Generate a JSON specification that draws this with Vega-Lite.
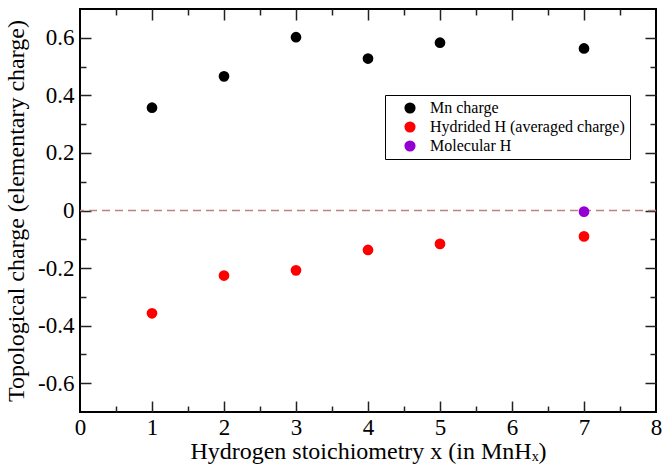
{
  "$schema": "https://vega.github.io/schema/vega-lite/v6.json",
  "width": 576,
  "height": 403,
  "autosize": {"type": "none"},
  "padding": {"left": 80, "top": 9, "right": 6, "bottom": 54},
  "background": "white",
  "config": {
    "font": "Liberation Serif",
    "view": {"stroke": "black", "strokeWidth": 2},
    "axis": {
      "domain": false,
      "grid": false,
      "labelFlush": false,
      "labelFont": "Liberation Serif",
      "titleFont": "Liberation Serif",
      "labelColor": "black",
      "titleColor": "black",
      "tickColor": "#222222",
      "tickWidth": 1.5,
      "labelFontSize": 23,
      "titleFontSize": 24,
      "titleFontWeight": "normal"
    },
    "legend": {
      "orient": "none",
      "legendX": 305,
      "legendY": 86,
      "labelFont": "Liberation Serif",
      "labelFontSize": 16,
      "labelColor": "black",
      "labelLimit": 400,
      "symbolSize": 125,
      "symbolType": "circle",
      "symbolStrokeWidth": 0,
      "symbolOpacity": 1,
      "strokeColor": "black",
      "fillColor": "white",
      "padding": 5,
      "rowPadding": 3,
      "symbolOffset": 12,
      "labelOffset": 12
    }
  },
  "datasets": {
    "charges": [
      {"x": 1, "charge": 0.357, "series": "Mn charge"},
      {"x": 2, "charge": 0.466, "series": "Mn charge"},
      {"x": 3, "charge": 0.602, "series": "Mn charge"},
      {"x": 4, "charge": 0.528, "series": "Mn charge"},
      {"x": 5, "charge": 0.583, "series": "Mn charge"},
      {"x": 7, "charge": 0.563, "series": "Mn charge"},
      {"x": 1, "charge": -0.357, "series": "Hydrided H (averaged charge)"},
      {"x": 2, "charge": -0.226, "series": "Hydrided H (averaged charge)"},
      {"x": 3, "charge": -0.208, "series": "Hydrided H (averaged charge)"},
      {"x": 4, "charge": -0.137, "series": "Hydrided H (averaged charge)"},
      {"x": 5, "charge": -0.116, "series": "Hydrided H (averaged charge)"},
      {"x": 7, "charge": -0.09, "series": "Hydrided H (averaged charge)"},
      {"x": 7, "charge": -0.004, "series": "Molecular H"}
    ],
    "zero": [{"v": 0}]
  },
  "layer": [
    {
      "data": {"name": "zero"},
      "mark": {"type": "rule", "color": "#c08080", "strokeDash": [8, 5], "strokeWidth": 1.5},
      "encoding": {
        "y": {"field": "v", "type": "quantitative", "scale": {"domain": [-0.7, 0.7], "nice": false, "zero": false}, "axis": null}
      }
    },
    {
      "data": {"name": "charges"},
      "mark": {"type": "circle", "size": 115, "opacity": 1},
      "encoding": {
        "x": {
          "field": "x", "type": "quantitative",
          "scale": {"domain": [0, 8], "nice": false, "zero": false},
          "axis": {"orient": "bottom", "values": [0, 1, 2, 3, 4, 5, 6, 7, 8], "ticks": false, "labelPadding": 4, "labelFlush": false, "format": "d",
            "labelFont": "Liberation Serif", "titleFont": "Liberation Serif", "labelFontSize": 23, "titleFontSize": 24, "titleFontWeight": "normal",
            "title": "Hydrogen stoichiometry x (in MnHₓ)", "titleBaseline": "alphabetic", "titleX": 288, "titleY": 46}
        },
        "y": {
          "field": "charge", "type": "quantitative",
          "scale": {"domain": [-0.7, 0.7], "nice": false, "zero": false},
          "axis": {"orient": "left", "values": [-0.6, -0.4, -0.2, 0, 0.2, 0.4, 0.6], "ticks": false, "labelPadding": 6, "labelFlush": false,
            "labelFont": "Liberation Serif", "titleFont": "Liberation Serif", "labelFontSize": 23, "titleFontSize": 24, "titleFontWeight": "normal",
            "labelExpr": "datum.value == 0 ? '0' : replace(format(datum.value, '.1f'), '\u2212', '-')", "title": "Topological charge (elementary charge)",
            "titleBaseline": "alphabetic", "titleX": -57, "titleY": 201.5}
        },
        "color": {
          "field": "series", "type": "nominal",
          "scale": {"domain": ["Mn charge", "Hydrided H (averaged charge)", "Molecular H"], "range": ["#000000", "#ff0000", "#9400d3"]},
          "legend": {"title": null}
        }
      }
    },
    {
      "data": {"name": "charges"},
      "mark": {"type": "point", "opacity": 0},
      "encoding": {
        "x": {"field": "x", "type": "quantitative", "scale": {"domain": [0, 8], "nice": false, "zero": false},
          "axis": {"orient": "bottom", "values": [1, 2, 3, 4, 5, 6, 7], "offset": -11, "tickSize": 11, "labels": false, "title": null}},
        "y": {"field": "charge", "type": "quantitative", "scale": {"domain": [-0.7, 0.7], "nice": false, "zero": false},
          "axis": {"orient": "left", "values": [-0.6, -0.4, -0.2, 0, 0.2, 0.4, 0.6], "offset": -11, "tickSize": 11, "labels": false, "title": null}}
      }
    },
    {
      "data": {"name": "charges"},
      "mark": {"type": "point", "opacity": 0},
      "encoding": {
        "x": {"field": "x", "type": "quantitative", "scale": {"domain": [0, 8], "nice": false, "zero": false},
          "axis": {"orient": "bottom", "values": [0.5, 1.5, 2.5, 3.5, 4.5, 5.5, 6.5, 7.5], "offset": -6, "tickSize": 6, "labels": false, "title": null}},
        "y": {"field": "charge", "type": "quantitative", "scale": {"domain": [-0.7, 0.7], "nice": false, "zero": false},
          "axis": {"orient": "left", "values": [-0.5, -0.3, -0.1, 0.1, 0.3, 0.5], "offset": -6, "tickSize": 6, "labels": false, "title": null}}
      }
    },
    {
      "data": {"name": "charges"},
      "mark": {"type": "point", "opacity": 0},
      "encoding": {
        "x": {"field": "x", "type": "quantitative", "scale": {"domain": [0, 8], "nice": false, "zero": false},
          "axis": {"orient": "top", "values": [1, 2, 3, 4, 5, 6, 7], "offset": -11, "tickSize": 11, "labels": false, "title": null}},
        "y": {"field": "charge", "type": "quantitative", "scale": {"domain": [-0.7, 0.7], "nice": false, "zero": false},
          "axis": {"orient": "right", "values": [-0.6, -0.4, -0.2, 0, 0.2, 0.4, 0.6], "offset": -11, "tickSize": 11, "labels": false, "title": null}}
      }
    },
    {
      "data": {"name": "charges"},
      "mark": {"type": "point", "opacity": 0},
      "encoding": {
        "x": {"field": "x", "type": "quantitative", "scale": {"domain": [0, 8], "nice": false, "zero": false},
          "axis": {"orient": "top", "values": [0.5, 1.5, 2.5, 3.5, 4.5, 5.5, 6.5, 7.5], "offset": -6, "tickSize": 6, "labels": false, "title": null}},
        "y": {"field": "charge", "type": "quantitative", "scale": {"domain": [-0.7, 0.7], "nice": false, "zero": false},
          "axis": {"orient": "right", "values": [-0.5, -0.3, -0.1, 0.1, 0.3, 0.5], "offset": -6, "tickSize": 6, "labels": false, "title": null}}
      }
    }
  ],
  "resolve": {"axis": {"x": "independent", "y": "independent"}}
}
